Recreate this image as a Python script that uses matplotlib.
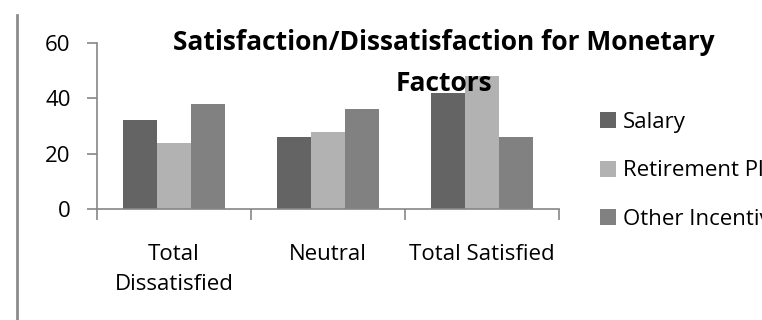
import numpy as np
import matplotlib
matplotlib.use('Agg')
import matplotlib.pyplot as plt
from matplotlib.lines import Line2D
from matplotlib.transforms import blended_transform_factory

categories = ['Total\nDissatisfied', 'Neutral', 'Total Satisfied']
series_names = ['Salary', 'Retirement Plan', 'Other Incentives']
salary = [32, 26, 42]
retirement = [24, 28, 48]
other = [38, 36, 26]
yticks = [0, 20, 40, 60]

colors = ['#646464', '#b2b2b2', '#818181']
axis_gray = '#868686'
fs = 16

plt.rcParams['font.family'] = ['Open Sans', 'DejaVu Sans']

W, H = 762, 320
fig = plt.figure(figsize=(W / 100, H / 100), dpi=100)
ax = fig.add_axes([97 / W, 1 - 209 / H, 462 / W, 166 / H])

x = np.arange(len(categories))
w = 0.22
for i, (vals, name) in enumerate(zip([salary, retirement, other], series_names)):
    ax.bar(x + (i - 1) * w, vals, width=w, color=colors[i], label=name, zorder=2)

ax.set_xlim(-0.5, len(categories) - 0.5)
ax.set_ylim(0, 60)
ax.set_yticks(yticks)
ax.set_yticklabels([str(v) for v in yticks], fontsize=fs)
ax.tick_params(axis='y', direction='out', length=7, width=1.2, color=axis_gray, pad=12)

# category boundaries carry the x ticks, labels sit in between
ax.set_xticks(np.arange(len(categories) + 1) - 0.5)
ax.set_xticklabels([''] * (len(categories) + 1))
ax.tick_params(axis='x', direction='out', length=8, width=1.2, color=axis_gray)
xfig = blended_transform_factory(ax.transData, fig.transFigure)
for xi, lab in zip(x, categories):
    for k, line in enumerate(lab.split('\n')):
        fig.text(xi, 1 - (260 + 30 * k) / H, line, ha='center', va='baseline',
                 fontsize=fs, transform=xfig)

for side in ['top', 'right']:
    ax.spines[side].set_visible(False)
for side in ['left', 'bottom']:
    ax.spines[side].set_color(axis_gray)
    ax.spines[side].set_linewidth(1.2)

title_lines = ['Satisfaction/Dissatisfaction for Monetary', 'Factors']
for k, line in enumerate(title_lines):
    fig.text(444 / W, 1 - (50 + 41 * k) / H, line, ha='center', va='baseline',
             fontsize=19, fontweight='bold', zorder=5)

# legend runs past the right edge of the figure
fig.legend(loc='center left', bbox_to_anchor=(600 / W, 1 - 171 / H), frameon=False,
           fontsize=fs, handlelength=0.72, handleheight=0.72, handletextpad=0.3,
           labelspacing=1.23, borderaxespad=0, borderpad=0)

# border line at the left edge
fig.add_artist(Line2D([17 / W, 17 / W], [0, 1 - 15 / H], color='#8c8c8c', lw=2))

fig.savefig('out.png', dpi=100)
